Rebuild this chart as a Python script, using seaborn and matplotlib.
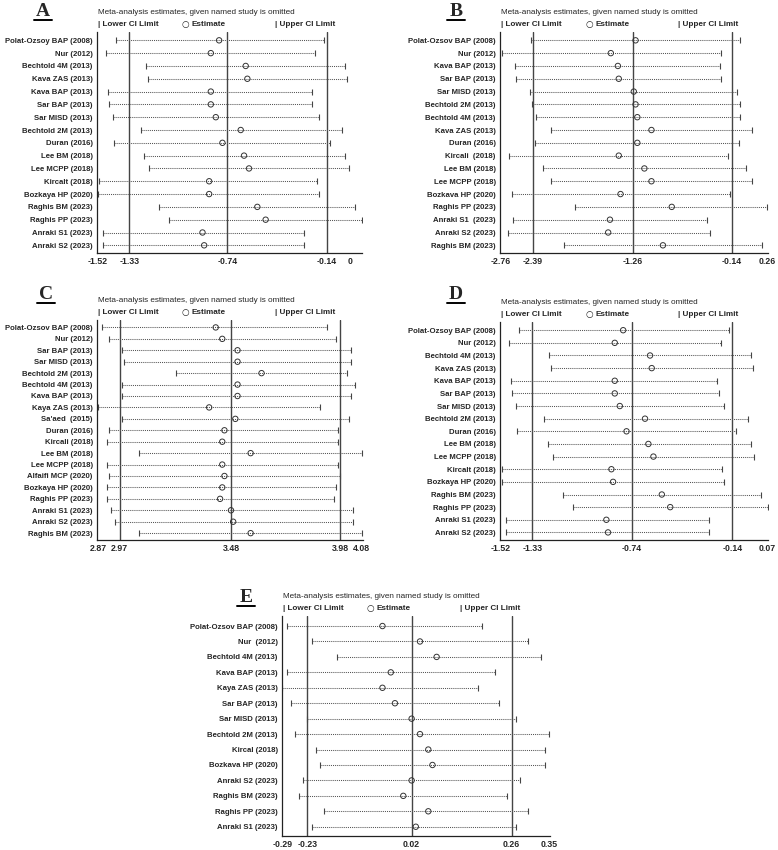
import numpy as np
import matplotlib
matplotlib.use("Agg")
import matplotlib.pyplot as plt
import seaborn as sns

# ---- panel A ----
a_studies = ["Polat-Ozsoy BAP (2008)", "Nur (2012)", "Bechtold 4M (2013)", "Kava ZAS (2013)",
             "Kava BAP (2013)", "Sar BAP (2013)", "Sar MISD (2013)", "Bechtold 2M (2013)",
             "Duran (2016)", "Lee BM (2018)", "Lee MCPP (2018)", "Kircalt (2018)",
             "Bozkaya HP (2020)", "Raghis BM (2023)", "Raghis PP (2023)", "Anraki S1 (2023)",
             "Anraki S2 (2023)"]
a_est = [-0.79, -0.84, -0.63, -0.62, -0.84, -0.84, -0.81, -0.66, -0.77, -0.64, -0.61,
         -0.85, -0.85, -0.56, -0.51, -0.89, -0.88]
a_lower = [-1.41, -1.47, -1.23, -1.22, -1.46, -1.45, -1.43, -1.26, -1.42, -1.24, -1.21,
           -1.51, -1.52, -1.15, -1.09, -1.49, -1.49]
a_upper = [-0.16, -0.21, -0.03, -0.02, -0.23, -0.23, -0.19, -0.05, -0.12, -0.03, -0.01,
           -0.20, -0.19, 0.03, 0.07, -0.28, -0.28]
a_ticks = [-1.52, -1.33, -0.74, -0.14, 0]
a_ticklabels = ["-1.52", "-1.33", "-0.74", "-0.14", "0"]
a_overall = [-1.33, -0.74, -0.14]

# ---- panel B ----
b_studies = ["Polat-Ozsov BAP (2008)", "Nur (2012)", "Kava BAP (2013)", "Sar BAP (2013)",
             "Sar MISD (2013)", "Bechtold 2M (2013)", "Bechtold 4M (2013)", "Kava ZAS (2013)",
             "Duran (2016)", "Kircali  (2018)", "Lee BM (2018)", "Lee MCPP (2018)",
             "Bozkava HP (2020)", "Raghis PP (2023)", "Anraki S1  (2023)", "Anraki S2 (2023)",
             "Raghis BM (2023)"]
b_est = [-1.23, -1.51, -1.43, -1.42, -1.25, -1.23, -1.21, -1.05, -1.21, -1.42, -1.13,
         -1.05, -1.40, -0.82, -1.52, -1.54, -0.92]
b_lower = [-2.41, -2.74, -2.59, -2.58, -2.43, -2.40, -2.36, -2.19, -2.37, -2.66, -2.28,
           -2.19, -2.63, -1.92, -2.62, -2.68, -2.04]
b_upper = [-0.05, -0.26, -0.27, -0.26, -0.08, -0.05, -0.05, 0.09, -0.06, -0.18, 0.02,
           0.09, -0.16, 0.26, -0.42, -0.39, 0.20]
b_ticks = [-2.76, -2.39, -1.26, -0.14, 0.26]
b_ticklabels = ["-2.76", "-2.39", "-1.26", "-0.14", "0.26"]
b_overall = [-2.39, -1.26, -0.14]

# ---- panel C ----
c_studies = ["Polat-Ozsov BAP (2008)", "Nur (2012)", "Sar BAP (2013)", "Sar MISD (2013)",
             "Bechtold 2M (2013)", "Bechtold 4M (2013)", "Kava BAP (2013)", "Kaya ZAS (2013)",
             "Sa'aed  (2015)", "Duran (2016)", "Kircali (2018)", "Lee BM (2018)",
             "Lee MCPP (2018)", "Alfaifi MCP (2020)", "Bozkaya HP (2020)", "Raghis PP (2023)",
             "Anraki S1 (2023)", "Anraki S2 (2023)", "Raghis BM (2023)"]
c_est = [3.41, 3.44, 3.51, 3.51, 3.62, 3.51, 3.51, 3.38, 3.50, 3.45, 3.44, 3.57, 3.44,
         3.45, 3.44, 3.43, 3.48, 3.49, 3.57]
c_lower = [2.89, 2.92, 2.98, 2.99, 3.23, 2.98, 2.98, 2.87, 2.98, 2.92, 2.91, 3.06, 2.91,
           2.92, 2.91, 2.91, 2.93, 2.95, 3.06]
c_upper = [3.92, 3.96, 4.03, 4.03, 4.01, 4.05, 4.03, 3.89, 4.02, 3.97, 3.97, 4.08, 3.97,
           3.98, 3.96, 3.95, 4.04, 4.04, 4.08]
c_ticks = [2.87, 2.97, 3.48, 3.98, 4.08]
c_ticklabels = ["2.87", "2.97", "3.48", "3.98", "4.08"]
c_overall = [2.97, 3.48, 3.98]

# ---- panel D ----
d_studies = ["Polat-Ozsoy BAP (2008)", "Nur (2012)", "Bechtold 4M (2013)", "Kava ZAS (2013)",
             "Kava BAP (2013)", "Sar BAP (2013)", "Sar MISD (2013)", "Bechtold 2M (2013)",
             "Duran (2016)", "Lee BM (2018)", "Lee MCPP (2018)", "Kircalt (2018)",
             "Bozkaya HP (2020)", "Raghis BM (2023)", "Raghis PP (2023)", "Anraki S1 (2023)",
             "Anraki S2 (2023)"]
d_est = [-0.79, -0.84, -0.63, -0.62, -0.84, -0.84, -0.81, -0.66, -0.77, -0.64, -0.61,
         -0.86, -0.85, -0.56, -0.51, -0.89, -0.88]
d_lower = [-1.41, -1.47, -1.23, -1.22, -1.46, -1.45, -1.43, -1.26, -1.42, -1.24, -1.21,
           -1.51, -1.51, -1.15, -1.09, -1.49, -1.49]
d_upper = [-0.16, -0.21, -0.03, -0.02, -0.23, -0.22, -0.19, -0.05, -0.12, -0.03, -0.01,
           -0.20, -0.19, 0.03, 0.07, -0.28, -0.28]
d_ticks = [-1.52, -1.33, -0.74, -0.14, 0.07]
d_ticklabels = ["-1.52", "-1.33", "-0.74", "-0.14", "0.07"]
d_overall = [-1.33, -0.74, -0.14]

# ---- panel E ----
e_studies = ["Polat-Ozsov BAP (2008)", "Nur  (2012)", "Bechtold 4M (2013)", "Kava BAP (2013)",
             "Kaya ZAS (2013)", "Sar BAP (2013)", "Sar MISD (2013)", "Bechtold 2M (2013)",
             "Kircal (2018)", "Bozkava HP (2020)", "Anraki S2 (2023)", "Raghis BM (2023)",
             "Raghis PP (2023)", "Anraki S1 (2023)"]
e_est = [-0.05, 0.04, 0.08, -0.03, -0.05, -0.02, 0.02, 0.04, 0.06, 0.07, 0.02, 0.00, 0.06, 0.03]
e_lower = [-0.28, -0.22, -0.16, -0.28, -0.29, -0.27, -0.23, -0.26, -0.21, -0.20, -0.24,
           -0.25, -0.19, -0.22]
e_upper = [0.19, 0.30, 0.33, 0.22, 0.18, 0.23, 0.27, 0.35, 0.34, 0.34, 0.28, 0.25, 0.30, 0.27]
e_ticks = [-0.29, -0.23, 0.02, 0.26, 0.35]
e_ticklabels = ["-0.29", "-0.23", "0.02", "0.26", "0.35"]
e_overall = [-0.23, 0.02, 0.26]

sns.set_style("white")
plt.rcParams["font.family"] = ["Liberation Sans", "DejaVu Sans"]

W, H = 778, 850
fig = plt.figure(figsize=(W / 100, H / 100), dpi=100)


def forest(px_left, px_top, px_w, px_h, letter, letter_x, letter_y,
           studies, est, lower, upper, ticks, ticklabels, overall, xlim):
    ax = fig.add_axes([px_left / W, 1 - (px_top + px_h) / H, px_w / W, px_h / H])
    n = len(studies)
    y = np.arange(n)
    ax.hlines(y, lower, upper, colors="#555555", lw=0.75, linestyles=(0, (1, 1)))
    ax.plot(lower, y, ls="none", marker="|", ms=4.5, mew=0.8, color="#444444")
    ax.plot(upper, y, ls="none", marker="|", ms=4.5, mew=0.8, color="#444444")
    for v in overall:
        ax.axvline(v, color="#444444", lw=1.0, zorder=1)
    sns.scatterplot(x=est, y=y, ax=ax, marker="o", s=15, facecolor="none",
                    edgecolor="#333333", linewidth=0.7, zorder=3)
    ax.set_yticks(y)
    ax.set_yticklabels(studies, fontsize=5.6, fontweight="bold")
    ax.set_ylim(n - 1 + 0.6, -0.65)
    ax.set_xticks(ticks)
    ax.set_xticklabels(ticklabels, fontsize=6.3, fontweight="bold")
    ax.set_xlim(*xlim)
    ax.tick_params(length=0, pad=3)
    for s in ["top", "right"]:
        ax.spines[s].set_visible(False)
    for s in ["left", "bottom"]:
        ax.spines[s].set_color("#222222")
        ax.spines[s].set_linewidth(0.9)

    # header + legend line above plot
    fx = px_left / W
    fig.text(fx + 1 / W, 1 - (px_top - 19.5) / H,
             "Meta-analysis estimates, given named study is omitted",
             fontsize=5.9, va="center", ha="left")
    ly = 1 - (px_top - 8) / H
    fig.text(fx + 1 / W, ly, "| Lower CI Limit", fontsize=5.9, fontweight="bold", va="center")
    fig.text(fx + 85 / W, ly, "\u25cb", fontsize=6.3, family="DejaVu Sans",
             va="center", ha="left", color="#222222")
    fig.text(fx + 95 / W, ly, "Estimate", fontsize=5.9, fontweight="bold", va="center")
    fig.text(fx + 178 / W, ly, "| Upper CI Limit", fontsize=5.9, fontweight="bold", va="center")

    # panel letter, underlined
    fig.text(letter_x / W, 1 - letter_y / H, letter, fontsize=14, fontweight="bold",
             family="Liberation Serif", ha="center", va="baseline")
    fig.add_artist(plt.Line2D([(letter_x - 9) / W, (letter_x + 9) / W],
                              [1 - (letter_y + 4) / H, 1 - (letter_y + 4) / H],
                              color="black", lw=1.4))
    return ax


forest(97, 32, 265, 221, "A", 43, 16, a_studies, a_est, a_lower, a_upper,
       a_ticks, a_ticklabels, a_overall, (-1.525, 0.07))
forest(500, 32, 268, 221, "B", 456, 16, b_studies, b_est, b_lower, b_upper,
       b_ticks, b_ticklabels, b_overall, (-2.765, 0.27))
forest(97, 320, 266, 220, "C", 46, 299, c_studies, c_est, c_lower, c_upper,
       c_ticks, c_ticklabels, c_overall, (2.866, 4.085))
forest(500, 322, 268, 218, "D", 456, 299, d_studies, d_est, d_lower, d_upper,
       d_ticks, d_ticklabels, d_overall, (-1.523, 0.072))
forest(282, 616, 268, 220, "E", 246, 602, e_studies, e_est, e_lower, e_upper,
       e_ticks, e_ticklabels, e_overall, (-0.291, 0.352))

fig.savefig("out.png", dpi=100)
